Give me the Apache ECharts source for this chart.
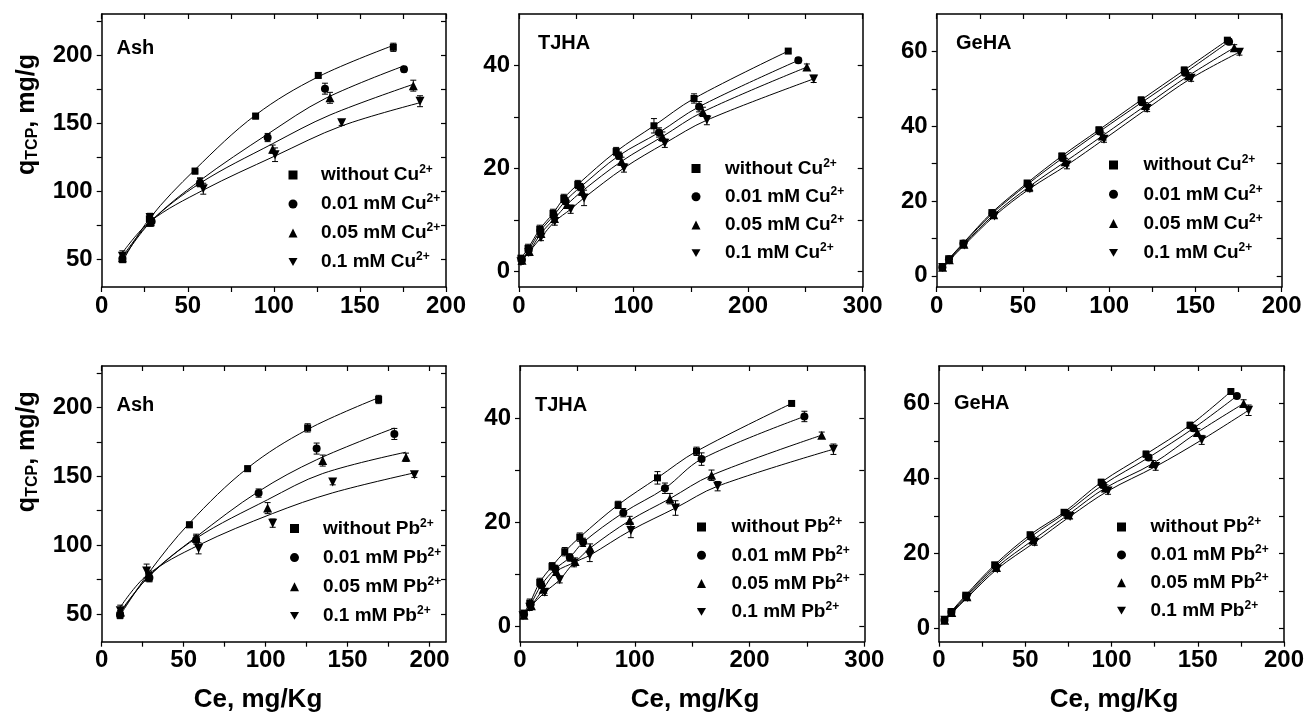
<!DOCTYPE html>
<html><head><meta charset="utf-8">
<script src="https://cdn.jsdelivr.net/npm/echarts@6/dist/echarts.min.js"></script>
<style>html,body{margin:0;padding:0;background:#fff}#c{width:1309px;height:720px}</style>
</head><body><div id="c"></div>
<script>
// ---------- tick values / labels ----------
const ashXTicks = [0,25,50,75,100,125,150,175,200];
const ashXLabels = [0,50,100,150,200];
const tjhaXTicks = [0,50,100,150,200,250,300];
const tjhaXLabels = [0,100,200,300];
const gehaXTicks = [0,25,50,75,100,125,150,175,200];
const gehaXLabels = [0,50,100,150,200];
const ashYTicks = [50,75,100,125,150,175,200,225];
const ashYLabels = [50,100,150,200];
const tjhaYTicks = [0,10,20,30,40];
const tjhaYLabels = [0,20,40];
const gehaYTicks = [0,10,20,30,40,50,60];
const gehaYLabels = [0,20,40,60];

const cuNames = ['without Cu','0.01 mM Cu','0.05 mM Cu','0.1 mM Cu'];
const pbNames = ['without Pb','0.01 mM Pb','0.05 mM Pb','0.1 mM Pb'];
const panelLabels = ['Ash','TJHA','GeHA','Ash','TJHA','GeHA'];
const xAxisName = 'Ce, mg/Kg';

// ---------- Panel 1: Ash, Cu ----------
const ashCu0X = [12.2,27.7,54.2,89.4,125.8,169.4];
const ashCu0Y = [50,80,114.9,155.2,185,205.6];
const ashCu0E = [2,3,2,2,2,3];
const ashCu0F = [49,80,116,156,184,207];
const ashCu1X = [12,29,57.1,96.4,129.7,175.6];
const ashCu1Y = [50.7,78,106.4,139.5,175.3,189.6];
const ashCu1E = [2,3,3,3,4,2];
const ashCu1F = [50.5,78.5,108,142,168,192];
const ashCu2X = [12,28,57.1,99.3,132.6,181];
const ashCu2Y = [51.5,77.5,107,131,168.6,177.5];
const ashCu2E = [3,3,3,3,4,4];
const ashCu2F = [52,77.5,106,135,156,178.5];
const ashCu3X = [12,28.1,59,100.7,139.4,184.9];
const ashCu3Y = [52.5,81,102,126.9,150.4,166.1];
const ashCu3E = [4,3,4,5,2,4];
const ashCu3F = [55,78,101,126,148,165];

// ---------- Panel 2: TJHA, Cu ----------
const tjCu0X = [1.7,7.9,18.1,29.7,39.1,51.3,84.8,117.8,152.8,235];
const tjCu0Y = [2.6,4.5,8.2,11.3,14.2,16.9,23.3,28.3,33.6,42.8];
const tjCu0E = [0.5,0.8,0.8,0.8,0.8,0.8,0.8,1.4,0.9,0.4];
const tjCu1X = [2.6,8.5,18.7,30.4,40.5,53.6,87.2,122.2,157.2,243.8];
const tjCu1Y = [2.3,4.2,7.9,10.9,13.7,16.4,22.5,27.0,32.0,41.0];
const tjCu1E = [0.5,0.6,0.7,0.7,0.7,0.7,0.7,0.9,1.0,0.5];
const tjCu2X = [2.6,9.0,19.2,31.0,42.0,55.1,89.5,125.2,160.5,251.3];
const tjCu2Y = [2.2,3.9,7.4,10.3,13.0,15.6,21.4,26.2,31.0,39.7];
const tjCu2E = [0.5,0.6,0.7,0.7,0.7,0.8,0.8,0.9,0.9,0.6];
const tjCu3X = [1.7,8.5,19.2,31.2,45.1,56.8,91.6,127.3,164,257.2];
const tjCu3Y = [1.9,3.7,6.6,9.7,12.1,14.3,20.1,24.9,29.4,37.4];
const tjCu3E = [0.5,0.6,0.6,0.7,0.8,1.5,0.8,0.8,0.9,0.7];

// ---------- Panel 3: GeHA, Cu ----------
const geCu0X = [3.2,7,15.3,32,52.4,72.5,94,118.5,143.5,168.5];
const geCu0Y = [2.4,4.5,8.7,16.9,24.8,32.0,39.0,47.0,55.0,63.0];
const geCu0E = [0.3,0.4,0.5,0.6,0.7,0.8,0.8,0.8,0.8,0.7];
const geCu1X = [3.3,7.1,15.5,32.4,52.8,73,94.5,119,144,169.5];
const geCu1Y = [2.3,4.4,8.6,16.7,24.5,31.5,38.6,46.4,54.3,62.6];
const geCu1E = [0.3,0.4,0.5,0.6,0.7,0.8,0.8,0.8,0.8,0.8];
const geCu2X = [3.4,7.3,15.8,33,53.5,74.5,96,121,146,172.5];
const geCu2Y = [2.3,4.3,8.4,16.3,23.8,30.5,37.4,45.5,53.5,61.0];
const geCu2E = [0.3,0.4,0.5,0.6,0.8,0.9,0.8,0.8,0.8,0.8];
const geCu3X = [3.5,7.5,16,33.5,54,75.5,97,122,147.5,175.5];
const geCu3Y = [2.2,4.2,8.2,16.0,23.3,29.6,36.5,44.7,52.8,59.8];
const geCu3E = [0.3,0.4,0.5,0.6,0.8,1.0,0.8,0.8,0.8,0.8];

// ---------- Panel 4: Ash, Pb ----------
const ashPb0X = [11.2,28.7,53.5,89,125.6,168.9];
const ashPb0Y = [49.3,78.4,114.8,155.5,185.1,205.7];
const ashPb0E = [2,3,2,2,3,3];
const ashPb0F = [49,80,116,156,184,207];
const ashPb1X = [11.2,29.1,57.6,95.7,131.1,178.5];
const ashPb1Y = [49.7,76.4,103.9,137.8,170.1,180.7];
const ashPb1E = [3,3,3,3,4,4];
const ashPb1F = [50.5,78,106,139,162,185];
const ashPb2X = [11.5,28.5,57.6,101.2,134.8,185.6];
const ashPb2Y = [51.5,77,105,126.9,161.4,163.8];
const ashPb2E = [3,3,3,4,4,3];
const ashPb2F = [52,77,105,133,152,167.5];
const ashPb3X = [11.3,27.4,59.1,104.3,140.9,190.7];
const ashPb3Y = [52.5,81.3,97.7,116,145.8,151.2];
const ashPb3E = [4,5,4,3,2,2];
const ashPb3F = [55,78,100,123,138,152.5];

// ---------- Panel 5: TJHA, Pb ----------
const tjPb0X = [3.5,8.5,17.2,27.9,39,52.1,85.5,119.8,153.8,236.7];
const tjPb0Y = [2.5,4.4,8.4,11.5,14.3,17.1,23.3,28.5,33.6,42.8];
const tjPb0E = [0.5,0.8,0.8,0.7,0.8,0.8,0.7,1.2,0.8,0.4];
const tjPb1X = [3.5,9.3,18.6,30.8,43.4,55,90,126.3,158.2,247.8];
const tjPb1Y = [2.3,4.2,7.9,11.0,13.2,16.1,21.8,26.5,32.1,40.3];
const tjPb1E = [0.5,0.6,0.7,0.7,0.7,0.8,0.8,1.0,1.2,1.0];
const tjPb2X = [3.5,9.9,20.1,31.7,48,61.1,95.6,130.6,166.9,262.9];
const tjPb2Y = [2.1,3.9,7.1,10.5,12.4,15.0,20.3,24.5,29.0,36.7];
const tjPb2E = [0.5,0.6,0.6,0.7,0.7,0.8,0.8,1.0,1.0,0.6];
const tjPb3X = [2.6,8.5,21.6,34.6,47.1,60.8,96.6,135.5,172.2,273.1];
const tjPb3Y = [2.0,3.6,6.5,8.9,12.1,13.6,18.4,22.7,26.9,34.0];
const tjPb3E = [0.5,0.6,0.6,0.6,0.7,1.2,1.4,1.4,0.9,1.0];

// ---------- Panel 6: GeHA, Pb ----------
const gePb0X = [3.1,7,15.5,32.3,52.8,72.5,94,120,145.5,169.2];
const gePb0Y = [2.4,4.5,8.9,17.0,25.0,31.0,39.0,46.5,54.2,63.2];
const gePb0E = [0.3,0.4,0.5,0.6,0.7,0.6,0.8,0.8,0.8,0.5];
const gePb1X = [3.2,7.2,15.8,32.8,53.3,73.5,95,121.5,147.5,172.7];
const gePb1Y = [2.3,4.4,8.7,16.7,24.5,30.8,38.3,45.6,53.4,62.0];
const gePb1E = [0.3,0.4,0.5,0.6,0.7,0.7,0.8,0.8,0.8,0.6];
const gePb2X = [3.3,7.4,16.2,33.3,54.5,75,96.5,124,149.8,176.6];
const gePb2Y = [2.2,4.3,8.5,16.3,23.6,30.4,37.5,44.0,52.3,60.0];
const gePb2E = [0.3,0.4,0.5,0.6,0.8,0.7,0.8,0.8,1.0,1.0];
const gePb3X = [3.4,7.6,16.5,33.8,55.5,76,98,125.6,152.3,179.5];
const gePb3Y = [2.2,4.2,8.3,15.9,23.0,29.9,36.7,43.2,50.3,58.2];
const gePb3E = [0.3,0.4,0.5,0.6,0.8,0.7,0.9,1.0,1.2,1.4];

// ---------- layout / style ----------
const FONT = 'Liberation Sans, Arial, Helvetica, sans-serif';
const BLK = '#000';
const SYM = ['rect','circle','triangle','path://M0,0L10,0L5,8.66Z'];
const SYMSIZE = [7,8,9,9];

const panels = [
  {grid:{left:101.7,top:14,width:344.3,height:273}, x:[0,200,ashXTicks,ashXLabels], y:[30,230,ashYTicks,ashYLabels], names:cuNames,
   s:[[ashCu0X,ashCu0Y,ashCu0E,ashCu0F],[ashCu1X,ashCu1Y,ashCu1E,ashCu1F],[ashCu2X,ashCu2Y,ashCu2E,ashCu2F],[ashCu3X,ashCu3Y,ashCu3E,ashCu3F]],
   leg:{x:293,y:175,gap:28,row:30.5}, lab:{x:116.5,y:48}},
  {grid:{left:519,top:14,width:343.7,height:273}, x:[0,300,tjhaXTicks,tjhaXLabels], y:[-3,50,tjhaYTicks,tjhaYLabels], names:cuNames,
   s:[[tjCu0X,tjCu0Y,tjCu0E],[tjCu1X,tjCu1Y,tjCu1E],[tjCu2X,tjCu2Y,tjCu2E],[tjCu3X,tjCu3Y,tjCu3E]],
   leg:{x:696,y:168.5,gap:29,row:29.7}, lab:{x:538,y:43.5}},
  {grid:{left:936.7,top:14,width:345,height:273}, x:[0,200,gehaXTicks,gehaXLabels], y:[-3,70,gehaYTicks,gehaYLabels], names:cuNames,
   s:[[geCu0X,geCu0Y,geCu0E],[geCu1X,geCu1Y,geCu1E],[geCu2X,geCu2Y,geCu2E],[geCu3X,geCu3Y,geCu3E]],
   leg:{x:1113.5,y:165,gap:30,row:30.8}, lab:{x:956,y:43.5}},
  {grid:{left:101.7,top:366,width:344.3,height:275.7}, x:[0,210,ashXTicks,ashXLabels], y:[30,230,ashYTicks,ashYLabels], names:pbNames,
   s:[[ashPb0X,ashPb0Y,ashPb0E,ashPb0F],[ashPb1X,ashPb1Y,ashPb1E,ashPb1F],[ashPb2X,ashPb2Y,ashPb2E,ashPb2F],[ashPb3X,ashPb3Y,ashPb3E,ashPb3F]],
   leg:{x:294.5,y:528.5,gap:28.5,row:30.6}, lab:{x:116.5,y:405}},
  {grid:{left:520,top:366,width:344.3,height:275.7}, x:[0,300,tjhaXTicks,tjhaXLabels], y:[-3,50,tjhaYTicks,tjhaYLabels], names:pbNames,
   s:[[tjPb0X,tjPb0Y,tjPb0E],[tjPb1X,tjPb1Y,tjPb1E],[tjPb2X,tjPb2Y,tjPb2E],[tjPb3X,tjPb3Y,tjPb3E]],
   leg:{x:701.5,y:527,gap:30,row:29.8}, lab:{x:535,y:405}},
  {grid:{left:939,top:366,width:345,height:275.7}, x:[0,200,gehaXTicks,gehaXLabels], y:[-3.5,70,gehaYTicks,gehaYLabels], names:pbNames,
   s:[[gePb0X,gePb0Y,gePb0E],[gePb1X,gePb1Y,gePb1E],[gePb2X,gePb2Y,gePb2E],[gePb3X,gePb3Y,gePb3E]],
   leg:{x:1121.5,y:527,gap:29,row:29.4}, lab:{x:954,y:403.5}}
];

const lineW = 1.5;
function axisCommon(i, r, pos, main) {
  return {
    type:'value', gridIndex:i, position:pos, min:r[0], max:r[1],
    axisLine:{show:true, onZero:false, lineStyle:{color:BLK, width:lineW}},
    axisTick:{show:true, inside:!main, length:5, customValues:r[2], lineStyle:{color:BLK, width:1.2}},
    axisLabel:{show:main, customValues:r[3], fontFamily:FONT, fontSize:24, fontWeight:'bold', color:BLK, margin:(pos==='bottom'?7:9)},
    splitLine:{show:false}, axisPointer:{show:false}
  };
}
function errRender(params, api) {
  const x = api.value(0), lo = api.value(1), hi = api.value(2);
  const a = api.coord([x, hi]), b = api.coord([x, lo]);
  const w = 3, st = {stroke:BLK, lineWidth:1};
  return {type:'group', children:[
    {type:'line', shape:{x1:a[0],y1:a[1],x2:b[0],y2:b[1]}, style:st},
    {type:'line', shape:{x1:a[0]-w,y1:a[1],x2:a[0]+w,y2:a[1]}, style:st},
    {type:'line', shape:{x1:b[0]-w,y1:b[1],x2:b[0]+w,y2:b[1]}, style:st}
  ]};
}

const grid=[], xAxis=[], yAxis=[], series=[], legend=[], graphic=[];
panels.forEach((p,i)=>{
  grid.push(Object.assign({containLabel:false}, p.grid));
  xAxis.push(axisCommon(i,p.x,'bottom',true));
  xAxis.push(axisCommon(i,p.x,'top',false));
  yAxis.push(axisCommon(i,p.y,'left',true));
  yAxis.push(axisCommon(i,p.y,'right',false));
  p.s.forEach((d,k)=>{
    const X=d[0], Y=d[1], E=d[2], F=d[3]||d[1];
    series.push({type:'line', name:'fit'+i+'_'+k, xAxisIndex:2*i, yAxisIndex:2*i, data:X.map((x,j)=>[x,F[j]]),
      smooth:0.35, showSymbol:false, symbol:'none', lineStyle:{color:BLK,width:1}, z:2, silent:true});
    series.push({type:'custom', name:'err'+i+'_'+k, xAxisIndex:2*i, yAxisIndex:2*i, renderItem:errRender,
      data:X.map((x,j)=>[x,Y[j]-E[j],Y[j]+E[j]]), z:3, silent:true});
    series.push({type:'scatter', name:p.names[k], xAxisIndex:2*i, yAxisIndex:2*i, data:X.map((x,j)=>[x,Y[j]]),
      symbol:SYM[k], symbolSize:SYMSIZE[k], itemStyle:{color:BLK, opacity:1}, z:4, silent:true});
  });
  const padL = p.leg.gap - 9.5;
  legend.push({
    data:p.names, orient:'vertical', left:p.leg.x-4.5, top:p.leg.y-11, padding:0,
    itemWidth:9, itemHeight:9, itemGap:p.leg.row-22, selectedMode:false,
    formatter:n=>'{t|'+n+'}{s|2+}',
    textStyle:{fontFamily:FONT, fontSize:19, fontWeight:'bold', color:BLK,
      rich:{t:{fontFamily:FONT, fontSize:19, fontWeight:'bold', color:BLK, lineHeight:22, padding:[0,0,0,padL]},
            s:{fontFamily:FONT, fontSize:12, fontWeight:'bold', color:BLK, lineHeight:9, verticalAlign:'top'}}}
  });
  graphic.push({type:'text', x:p.lab.x, y:p.lab.y, style:{text:panelLabels[i], font:'bold 20px '+FONT, fill:BLK, textAlign:'left', textVerticalAlign:'middle'}});
});

// axis titles
[[27,114.5],[27,451.7]].forEach(pt=>{
  graphic.push({type:'text', x:pt[0], y:pt[1], rotation:Math.PI/2,
    style:{text:'{q|q}{b|TCP}{q|, mg/g}', textAlign:'center', textVerticalAlign:'middle', fill:BLK,
      rich:{q:{fontFamily:FONT, fontSize:25, fontWeight:'bold', fill:BLK, lineHeight:28},
            b:{fontFamily:FONT, fontSize:16, fontWeight:'bold', fill:BLK, lineHeight:16, verticalAlign:'bottom'}}}});
});
[258,695,1114].forEach(cx=>{
  graphic.push({type:'text', x:cx, y:700, style:{text:xAxisName, font:'bold 26px '+FONT, fill:BLK, textAlign:'center', textVerticalAlign:'middle'}});
});

const chart = echarts.init(document.getElementById('c'), null, {renderer:'canvas'});
chart.setOption({animation:false, backgroundColor:'#fff', grid, xAxis, yAxis, series, legend, graphic, tooltip:{show:false}});
</script></body></html>
